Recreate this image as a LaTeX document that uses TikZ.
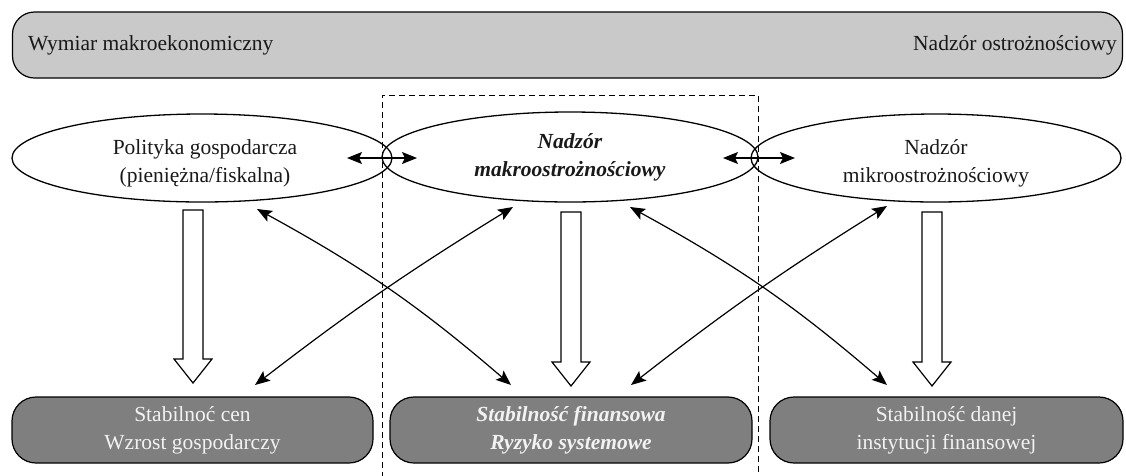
\documentclass[tikz,border=0pt]{standalone}
\usepackage{fontspec}
\setmainfont{Liberation Serif}
\usetikzlibrary{arrows.meta,shapes.geometric}
\definecolor{bannerfill}{HTML}{C9C9C9}
\definecolor{boxfill}{HTML}{7F7F7F}
\definecolor{boxtext}{HTML}{F2F2F2}
\begin{document}
\begin{tikzpicture}[x=1pt,y=-1pt,
  txt/.style={font=\fontsize{21.5}{28}\selectfont, align=center, inner sep=0pt, text=black!90},
  oval/.style={ellipse, draw, line width=1.3pt, inner sep=0pt},
  banner/.style={draw, line width=1.2pt, fill=bannerfill, rounded corners=22pt, minimum width=1110pt, minimum height=66pt, inner sep=0pt},
  goal/.style={draw, line width=1.2pt, fill=boxfill, rounded corners=24pt, minimum height=66pt, inner sep=0pt, txt, text=boxtext},
  link/.style={line width=1.2pt, {Stealth[length=15pt,width=12pt,inset=3pt]}-{Stealth[length=15pt,width=12pt,inset=3pt]}},
  hollow/.pic={\draw[line width=1.2pt, fill=white] (-10,0) -- (10,0) -- (10,#1) -- (19,#1) -- (0,{#1+24}) -- (-19,#1) -- (-10,#1) -- cycle;}
]
\useasboundingbox (0,0) rectangle (1126,475);

% top banner
\node[banner] (top) at (567.5,45) {};
\node[txt, anchor=west] (tl) at (28,45) {Wymiar makroekonomiczny};
\node[txt, anchor=east] (tr) at (1117,45) {Nadzór ostrożnościowy};

% dashed frame
\draw[dashed, dash pattern=on 6pt off 4pt, line width=1pt] (382,478) -- (382,95) -- (758,95) -- (758,478);

% ellipses
\node[oval, minimum width=380pt, minimum height=88pt] (e1) at (202,158) {};
\node[oval, minimum width=376pt, minimum height=90pt] (e2) at (570,157) {};
\node[oval, minimum width=370pt, minimum height=88pt] (e3) at (936,158) {};
\node[txt] (t1) at (205,163) {Polityka gospodarcza\\(pieniężna/fiskalna)};
\node[txt] (t2) at (570,157) {\textbf{\textit{Nadzór}}\\\textbf{\textit{makroostrożnościowy}}};
\node[txt] (t3) at (936,163) {Nadzór\\mikroostrożnościowy};

% bottom boxes
\node[goal, minimum width=361pt] (b1) at (192.5,430) {Stabilnoć cen\\Wzrost gospodarczy};
\node[goal, minimum width=362pt] (b2) at (571,430) {\textbf{\textit{Stabilność finansowa}}\\\textbf{\textit{Ryzyko systemowe}}};
\node[goal, minimum width=353pt] (b3) at (946.5,430) {Stabilność danej\\instytucji finansowej};

% hollow block arrows
\pic at (193,210) {hollow=149};
\pic at (571,212) {hollow=150};
\pic at (932,212) {hollow=150};

% double arrows between ellipses
\coordinate (l1) at (347,158);
\coordinate (l2) at (417,158);
\coordinate (r1) at (723,158);
\coordinate (r2) at (795,158);
\draw[link] (l1) -- (l2);
\draw[link] (r1) -- (r2);

% cross arrows
\coordinate (a1) at (257,209);
\coordinate (a2) at (511,385);
\coordinate (bb1) at (513,207);
\coordinate (bb2) at (255,385);
\coordinate (c1) at (630,207);
\coordinate (c2) at (887,385);
\coordinate (d1) at (887,206);
\coordinate (d2) at (631,385);
\draw[link] (a1) to[bend left=6] (a2);
\draw[link] (bb1) to[bend right=3] (bb2);
\draw[link] (c1) to[bend left=6] (c2);
\draw[link] (d1) to[bend right=3] (d2);
\end{tikzpicture}
\end{document}
